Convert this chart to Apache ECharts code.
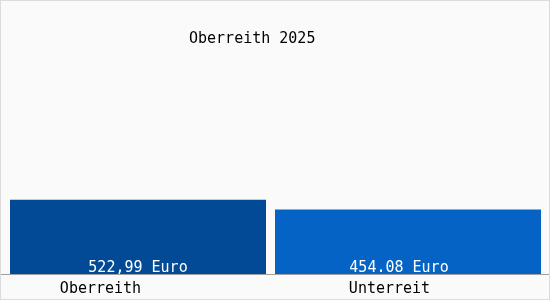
<!DOCTYPE html>
<html>
<head>
<meta charset="utf-8">
<script src="https://cdn.jsdelivr.net/npm/echarts@6/dist/echarts.min.js"></script>
<style>
html,body{margin:0;padding:0;background:#fff;}
#c{width:550px;height:300px;box-sizing:border-box;border:1px solid #dcdcdc;background:#fafafa;}
</style>
</head>
<body>
<div id="c"></div>
<script>
const titleText = 'Oberreith 2025';
const categories = ['Oberreith', 'Unterreit'];
const values = [522.99, 454.08];
const valueLabels = ['522,99 Euro', '454.08 Euro'];
const barColors = ['#034a96', '#0563c6'];
const yMax = 1500;

const font = '"DejaVu Sans Mono", "Liberation Mono", monospace';
const chart = echarts.init(document.getElementById('c'), null, {renderer: 'canvas'});
const labelPad = [75, 37];
const valueLabelShift = [0, -9];

function seriesFor(i, axisIndex, width) {
  return {
    type: 'bar',
    xAxisIndex: axisIndex,
    yAxisIndex: 0,
    barWidth: width,
    data: categories.map((c, j) => j === i ? values[j] : '-'),
    itemStyle: {color: barColors[i]},
    label: {
      show: true,
      position: 'insideBottom',
      distance: -2,
      offset: [valueLabelShift[i], 0],
      color: '#ffffff',
      fontFamily: font,
      fontSize: 15,
      lineHeight: 15,
      formatter: () => valueLabels[i]
    },
    silent: true
  };
}

chart.setOption({
  animation: false,
  title: {
    text: titleText,
    left: 183,
    top: 26,
    textStyle: {fontFamily: font, fontSize: 15, lineHeight: 15, fontWeight: 'normal', color: '#000'}
  },
  grid: [
    {left: 2, right: 6, top: 60, bottom: 25},
    {left: 0, right: 0, top: 60, bottom: 25}
  ],
  xAxis: [
    {
      type: 'category', gridIndex: 0, data: categories,
      axisLine: {show: false}, axisTick: {show: false},
      axisLabel: {
        margin: 8,
        formatter: (v, idx) => '{a' + idx + '|' + v + '}',
        rich: {
          a0: {fontFamily: font, fontSize: 15, lineHeight: 15, color: '#000', padding: [0, labelPad[0], 0, 0]},
          a1: {fontFamily: font, fontSize: 15, lineHeight: 15, color: '#000', padding: [0, labelPad[1], 0, 0]}
        }
      }
    },
    {
      type: 'category', gridIndex: 0, data: categories, show: false
    },
    {
      type: 'category', gridIndex: 1, data: categories,
      axisLine: {show: true, lineStyle: {color: '#a0a0a0', width: 1}},
      axisTick: {show: false}, axisLabel: {show: false}
    }
  ],
  yAxis: [
    {type: 'value', gridIndex: 0, min: 0, max: yMax, show: false, splitLine: {show: false}},
    {type: 'value', gridIndex: 1, min: 0, max: yMax, show: false, splitLine: {show: false}}
  ],
  series: [
    seriesFor(0, 0, 256),
    seriesFor(1, 1, 266)
  ]
});
</script>
</body>
</html>
